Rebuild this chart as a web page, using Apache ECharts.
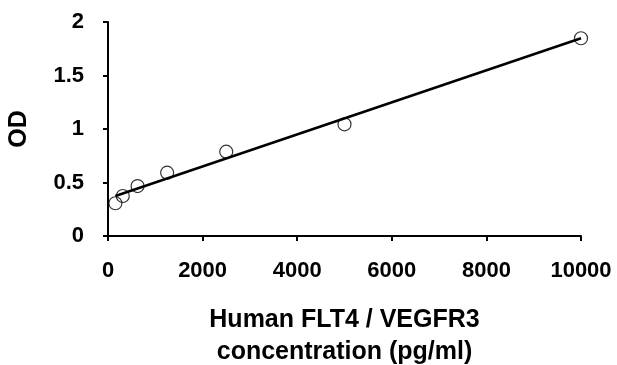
<!DOCTYPE html>
<html>
<head>
<meta charset="utf-8">
<script src="https://cdn.jsdelivr.net/npm/echarts@6/dist/echarts.min.js"></script>
<style>
  html, body { margin: 0; padding: 0; background: #fff; }
  #chart { width: 617px; height: 365px; }
</style>
</head>
<body>
<div id="chart"></div>
<script>
// Standard curve points (concentration pg/ml vs OD)
const concentrations = [156.25, 312.5, 625, 1250, 2500, 5000, 10000];
const odValues = [0.306, 0.374, 0.467, 0.592, 0.788, 1.044, 1.848];

// Fitted line endpoints
const fitX = [156.25, 10000];
const fitY = [0.374, 1.848];

const xTicks = [0, 2000, 4000, 6000, 8000, 10000];
const yTicks = [0, 0.5, 1, 1.5, 2];

const labelFont = {
  fontFamily: 'Liberation Sans',
  fontWeight: 'bold',
  fontSize: 22,
  color: '#000',
};

const chart = echarts.init(document.getElementById('chart'));

const option = {
  animation: false,
  grid: { left: 108, right: 36, top: 22, bottom: 129, outerBoundsMode: 'none', containLabel: false },
  xAxis: {
    type: 'value',
    min: xTicks[0],
    max: xTicks[xTicks.length - 1],
    interval: 2000,
    name: 'Human FLT4 / VEGFR3\nconcentration (pg/ml)',
    nameLocation: 'middle',
    nameGap: 68,
    nameTextStyle: {
      fontFamily: 'Liberation Sans',
      fontWeight: 'bold',
      fontSize: 25,
      lineHeight: 32,
      color: '#000',
    },
    axisLine: { lineStyle: { color: '#000', width: 2 } },
    axisTick: { show: true, length: 5, lineStyle: { color: '#000', width: 2 } },
    axisLabel: { ...labelFont, margin: 24, formatter: (v) => String(v) },
    splitLine: { show: false },
  },
  yAxis: {
    type: 'value',
    min: yTicks[0],
    max: yTicks[yTicks.length - 1],
    interval: 0.5,
    name: 'OD',
    nameLocation: 'middle',
    nameRotate: 90,
    nameGap: 76,
    nameTextStyle: {
      fontFamily: 'Liberation Sans',
      fontWeight: 'bold',
      fontSize: 25,
      color: '#000',
    },
    axisLine: { show: true, lineStyle: { color: '#000', width: 2 } },
    axisTick: { show: true, length: 5, lineStyle: { color: '#000', width: 2 } },
    axisLabel: { ...labelFont, margin: 24, formatter: (v) => String(v) },
    splitLine: { show: false },
  },
  series: [
    {
      name: 'Fit',
      type: 'line',
      data: fitX.map((x, i) => [x, fitY[i]]),
      symbol: 'none',
      lineStyle: { color: '#000', width: 2.5 },
      z: 2,
    },
    {
      name: 'Standards',
      type: 'scatter',
      data: concentrations.map((x, i) => [x, odValues[i]]),
      symbol: 'circle',
      symbolSize: 13,
      itemStyle: { color: 'rgba(255,255,255,0)', borderColor: '#000', borderWidth: 1.2 },
      z: 3,
    },
  ],
};

chart.setOption(option);
</script>
</body>
</html>
